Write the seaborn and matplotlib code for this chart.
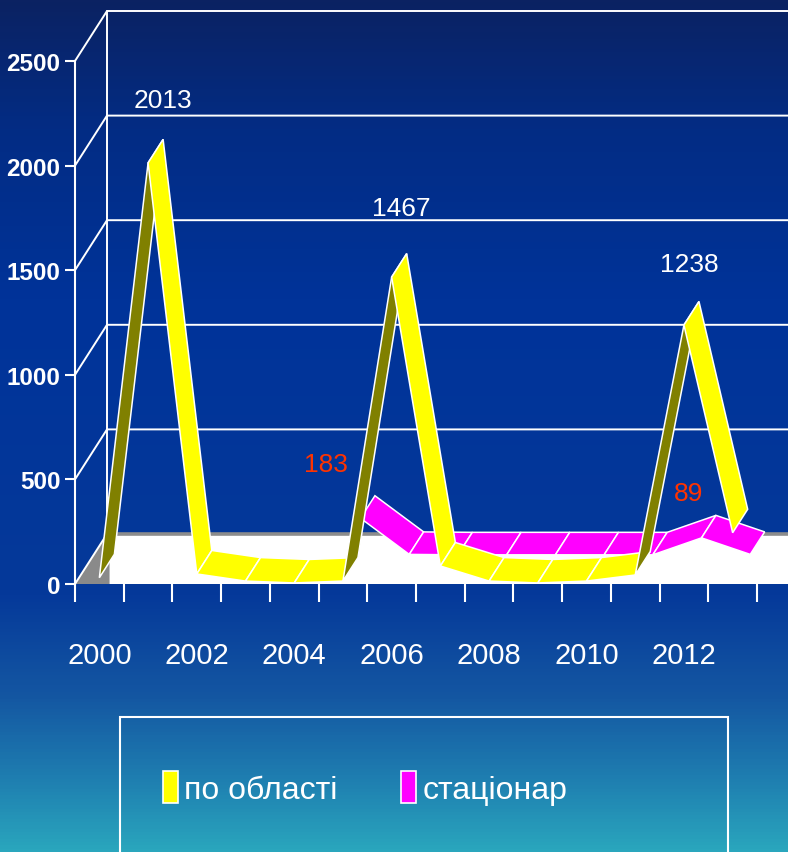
import matplotlib

matplotlib.use("Agg")
import matplotlib.pyplot as plt  # noqa: E402
import numpy as np  # noqa: E402
import pandas as pd  # noqa: E402
import seaborn as sns  # noqa: E402
from matplotlib.colors import LinearSegmentedColormap  # noqa: E402
from matplotlib.patches import Rectangle  # noqa: E402

# --------------------------------------------------------------------------- #
# data                                                    #
# --------------------------------------------------------------------------- #
years = list(range(2000, 2014))
oblast = [30, 2013, 48, 14, 5, 14, 1467, 86, 14, 5, 14, 43, 1238, 245]
stacionar = [np.nan, np.nan, np.nan, np.nan, np.nan,
             183, 10, 8, 8, 8, 8, 8, 89, 10]
oblast_labelled = [2001, 2006, 2012]
stacionar_labelled = [2005, 2012]
series_names = ["по області", "стаціонар"]
y_ticks = [0, 500, 1000, 1500, 2000, 2500]
x_ticklabels = [2000, 2002, 2004, 2006, 2008, 2010, 2012]

# --------------------------------------------------------------------------- #
# style                                                                        #
# --------------------------------------------------------------------------- #
W, H = 788, 853
YELLOW, OLIVE = "#ffff00", "#808000"
MAGENTA, PURPLE = "#ff00ff", "#800080"
LABEL_RED = "#ff3300"
# oblique "3D" depth of the chart box, in data units (x: categories, y: values)
DX, DY = 32 / 682 * 14, 50 / 523 * 2500
DEPTH = {"oblast": (0.0, 0.47), "stacionar": (0.55, 1.0)}
# label offsets (points) from the front corner of the ribbon
LABEL_OFFSET = {("oblast", 2001): (11, 45), ("oblast", 2006): (7, 50),
                ("oblast", 2012): (4, 44),
                ("stacionar", 2005): (-12, 59), ("stacionar", 2012): (3, 52)}

sns.set_theme(style="ticks")
plt.rcParams["font.family"] = ["Liberation Sans", "DejaVu Sans"]

fig = plt.figure(figsize=(W / 100, H / 100), dpi=100)

# background gradient
bg = fig.add_axes([0, 0, 1, 1], zorder=-10)
cmap = LinearSegmentedColormap.from_list(
    "bg", [(0.0, "#0b2262"), (0.15, "#032c84"), (0.35, "#003399"),
           (0.70, "#05399a"), (0.82, "#1457a2"), (0.92, "#1f80b1"),
           (1.0, "#2aa6bd")])
bg.imshow(np.linspace(0, 1, 256)[:, None], aspect="auto", cmap=cmap,
          extent=[0, 1, 0, 1], origin="upper")
bg.axis("off")

ax = fig.add_axes([75 / W, (H - 585) / H, 682 / W, 523 / H])
ax.set_facecolor("none")
n = len(years)
xc = np.arange(n) + 0.5

# floor slab
ax.add_patch(Rectangle((DX, 0), n + 2, DY, facecolor="white", edgecolor="none",
                       zorder=1, clip_on=False))
ax.fill([0, DX, DX * 1.08, DX * 1.08], [0, DY, DY, 0], color="#8a8a8a", lw=0,
        zorder=1, clip_on=False)

# walls: gridlines on the side and back wall
grid = pd.DataFrame(
    [(v, x, y) for v in y_ticks for x, y in [(0, v), (DX, v + DY), (n + 2, v + DY)]]
    + [("edge", DX, DY), ("edge", DX, y_ticks[-1] + DY)],
    columns=["level", "x", "y"])
sns.lineplot(data=grid, x="x", y="y", units="level", estimator=None,
             color="white", lw=1.4, ax=ax, legend=False, zorder=2)
ax.plot([DX, n + 2], [DY, DY], color="#8c8c8c", lw=2.6, zorder=2,
        solid_capstyle="butt")
for ln in ax.lines:
    ln.set_clip_on(False)

ax.set_xlim(0, n)
ax.set_ylim(0, y_ticks[-1])


def _ribbon(values, d0, d1, top, under, z):
    v = np.asarray(values, dtype=float)
    for i in range(n - 1):
        if np.isnan(v[i]) or np.isnan(v[i + 1]):
            continue
        px = [xc[i] + d0 * DX, xc[i + 1] + d0 * DX, xc[i + 1] + d1 * DX, xc[i] + d1 * DX]
        py = [v[i] + d0 * DY, v[i + 1] + d0 * DY, v[i + 1] + d1 * DY, v[i] + d1 * DY]
        p = ax.transData.transform(np.column_stack([px, py]))
        a, b = p[1] - p[0], p[3] - p[0]
        face = top if a[0] * b[1] - a[1] * b[0] > 0 else under
        ax.fill(px, py, facecolor=face, edgecolor="white", lw=1.1, zorder=z,
                clip_on=False)


_ribbon(stacionar, *DEPTH["stacionar"], MAGENTA, PURPLE, 3)
_ribbon(oblast, *DEPTH["oblast"], YELLOW, OLIVE, 4)

# value labels
for key, vals, labelled, col in [("stacionar", stacionar, stacionar_labelled, LABEL_RED),
                                 ("oblast", oblast, oblast_labelled, "white")]:
    for yr in labelled:
        v = vals[years.index(yr)]
        ax.annotate(f"{v:.0f}", (xc[years.index(yr)], v), xytext=LABEL_OFFSET[(key, yr)],
                    textcoords="offset points", ha="center", va="center",
                    color=col, fontsize=19, zorder=6, annotation_clip=False)

# axes
ax.set_xlabel("")
ax.set_ylabel("")
ax.set_yticks(y_ticks)
ax.set_yticklabels([str(t) for t in y_ticks], fontweight="bold")
ax.set_xticks(np.arange(n + 1), minor=True)
ax.set_xticks([years.index(y) + 0.5 for y in x_ticklabels])
ax.set_xticklabels([str(y) for y in x_ticklabels])
ax.tick_params(axis="y", length=7, width=1.5, color="white", labelcolor="white",
               labelsize=17.5, pad=3.5)
ax.tick_params(axis="x", which="major", length=0, pad=41, labelcolor="white",
               labelsize=21)
ax.tick_params(axis="x", which="minor", length=13, width=1.5, color="white")
for s in ["top", "right", "bottom"]:
    ax.spines[s].set_visible(False)
ax.spines["left"].set_color("white")
ax.spines["left"].set_linewidth(1.5)

# legend
handles = [Rectangle((0, 0), 1, 1, facecolor=c, edgecolor="white", lw=1.2)
           for c in (YELLOW, MAGENTA)]
fig.legend(handles, series_names, loc="center left",
           bbox_to_anchor=(134 / W, 1 - 789 / H), ncol=2, frameon=False,
           prop={"size": 23}, labelcolor="white", handlelength=0.47,
           handleheight=1.15, handletextpad=0.2, columnspacing=2.0)
fig.add_artist(Rectangle((120 / W, -0.02), 608 / W, 1 - 718 / H + 0.02,
                         transform=fig.transFigure, fill=False,
                         edgecolor="white", lw=1.5))

fig.savefig("out.png", dpi=100)
